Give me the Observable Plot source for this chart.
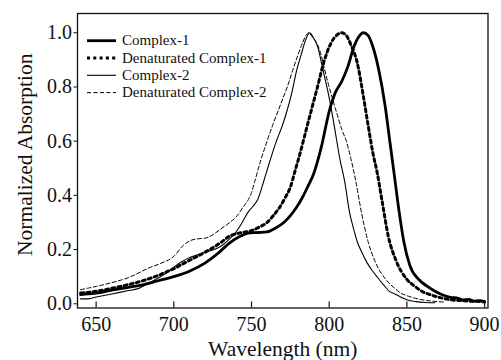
<!DOCTYPE html>
<html><head><meta charset="utf-8">
<script src="https://cdn.jsdelivr.net/npm/d3@7"></script>
<script src="https://cdn.jsdelivr.net/npm/@observablehq/plot@0.6"></script>
<style>body{margin:0;background:#fff}</style>
</head><body><div id="chart"></div>
<script>
// [wavelength (nm), normalized absorption]
const complex1 = [[640,0.034],[645,0.037],[650,0.039],[660,0.05],[670,0.06],[680,0.07],[690,0.085],[700,0.1],[710,0.12],[720,0.15],[728,0.184],[736,0.225],[743,0.25],[749,0.262],[755,0.263],[760,0.265],[765,0.278],[771,0.301],[775,0.325],[779,0.356],[783,0.395],[786,0.43],[790,0.48],[795,0.58],[800,0.71],[804,0.78],[808,0.82],[812,0.875],[816,0.95],[819,0.985],[822,1.0],[825,0.99],[828,0.95],[832,0.86],[836,0.73],[839,0.6],[842,0.47],[845,0.34],[848,0.23],[852,0.14],[858,0.088],[863,0.065],[867,0.05],[872,0.035],[878,0.024],[883,0.02],[886,0.014],[890,0.016],[893,0.01],[897,0.012],[900,0.008]];
const denatured1 = [[640,0.04],[650,0.046],[660,0.057],[670,0.07],[680,0.085],[690,0.105],[700,0.13],[710,0.16],[720,0.19],[730,0.225],[736,0.25],[743,0.262],[750,0.27],[755,0.283],[760,0.3],[764,0.325],[768,0.355],[772,0.395],[775,0.43],[778,0.49],[781,0.55],[786,0.66],[792,0.79],[797,0.9],[801,0.96],[805,0.992],[808,1.0],[811,0.99],[814,0.955],[818,0.89],[822,0.765],[825,0.66],[828,0.56],[831,0.48],[834,0.38],[838,0.25],[843,0.16],[850,0.09],[855,0.065],[860,0.045],[866,0.032],[872,0.022],[878,0.015],[884,0.012],[890,0.01],[895,0.009],[900,0.007]];
const complex2 = [[640,0.018],[645,0.018],[650,0.025],[660,0.036],[670,0.048],[677,0.056],[683,0.074],[690,0.095],[696,0.117],[700,0.135],[705,0.155],[710,0.17],[715,0.18],[720,0.19],[726,0.2],[731,0.215],[735,0.235],[740,0.265],[744,0.3],[748,0.34],[751,0.36],[754,0.385],[758,0.455],[762,0.53],[766,0.6],[770,0.66],[773,0.715],[776,0.78],[779,0.86],[782,0.92],[784,0.96],[786,0.99],[787.5,1.0],[789,0.99],[791,0.97],[793,0.94],[795,0.89],[797.5,0.825],[800,0.76],[803,0.665],[807,0.53],[810,0.45],[813,0.34],[816,0.27],[818,0.23],[821,0.19],[824.5,0.15],[828,0.12],[831,0.098],[835,0.07],[839,0.045],[842,0.037],[846,0.025],[850,0.015],[856,0.008],[862,0.005],[868,0.004]];
const denatured2 = [[640,0.052],[645,0.058],[650,0.064],[660,0.078],[670,0.095],[676,0.11],[683,0.13],[691,0.148],[700,0.175],[706,0.215],[711,0.234],[716,0.24],[720,0.242],[726,0.258],[730,0.275],[736,0.3],[740,0.32],[745,0.36],[748,0.385],[750,0.41],[752,0.45],[756,0.53],[760,0.6],[764,0.665],[769,0.74],[773,0.8],[777,0.87],[780,0.92],[783,0.965],[785.5,0.995],[787,1.0],[789,0.985],[793,0.95],[799,0.82],[804,0.72],[808,0.645],[811,0.6],[814,0.535],[817,0.455],[821,0.33],[825,0.23],[830,0.15],[837,0.086],[842,0.058],[846,0.04],[851,0.028],[857,0.018],[863,0.012],[870,0.008],[875,0.006]];

const seriesNames = ["Complex-1","Denaturated Complex-1","Complex-2","Denaturated Complex-2"];
const seriesData = [complex1, denatured1, complex2, denatured2];
const xTicks = [650,700,750,800,850,900];
const yTicks = [0,0.2,0.4,0.6,0.8,1.0];
const xTitle = "Wavelength (nm)";
const yTitle = "Normalized Absorption";

// styles
const lineStyles = [
  {strokeWidth:2.8, dash:null},
  {strokeWidth:3, dash:"3,3.3"},
  {strokeWidth:1.1, dash:null},
  {strokeWidth:1, dash:"4,2.5"}
];
const W=501, H=360, mL=77, mR=13.5, mT=13, mB=52.5;
const FONT = "'Liberation Serif','Times New Roman',serif";
const INK = "#111";

const lineMarks = seriesData.map((data,i)=>Plot.line(data, {
  x: d=>d[0], y: d=>d[1], stroke:"#000", strokeWidth: lineStyles[i].strokeWidth,
  strokeDasharray: lineStyles[i].dash ?? undefined, curve:"monotone-x", strokeLinejoin:"round"
}));

const plot = Plot.plot({
  width:W, height:H, marginLeft:mL, marginRight:mR, marginTop:mT, marginBottom:mB,
  style:{fontFamily:FONT, fontSize:"20px", color:INK, background:"#fff", overflow:"visible"},
  x:{domain:[638,902.2], ticks:xTicks, tickFormat:d=>String(d), tickSize:0, tickPadding:8.3, label:null},
  y:{domain:[-0.0155,1.071], ticks:yTicks, tickFormat:d=>d.toFixed(1), tickSize:3.5, tickPadding:2, label:null},
  marks:[
    Plot.ruleX(xTicks, {x:d=>d, insetTop:(H-mT-mB)-6, stroke:INK, strokeWidth:1.2}),
    ...lineMarks,
    Plot.frame({stroke:INK, strokeWidth:1.3}),
    Plot.text([xTitle], {text:d=>d, frameAnchor:"bottom", textAnchor:"middle", dy:47.5, lineAnchor:"bottom", fontSize:21.5, fill:INK}),
    Plot.text([yTitle], {text:d=>d, frameAnchor:"left", textAnchor:"middle", dx:-45.3, dy:-6, rotate:-90, lineAnchor:"bottom", fontSize:21.5, fill:INK})
  ]
});

// legend inside the plot, top-left
const svg = d3.select(plot);
const lg = svg.append("g").attr("font-family", FONT).attr("font-size", 15).attr("fill", INK).attr("text-anchor","start");
const lx0 = 87, lx1 = 116, ltx = 122, ly0 = 40.7, lstep = 17.3;
seriesNames.forEach((name,i)=>{
  const y = ly0 + i*lstep;
  const ln = lg.append("line").attr("x1",lx0).attr("x2",lx1).attr("y1",y).attr("y2",y)
    .attr("stroke","#000").attr("stroke-width",lineStyles[i].strokeWidth);
  if (lineStyles[i].dash) ln.attr("stroke-dasharray", lineStyles[i].dash);
  lg.append("text").attr("x",ltx).attr("y",y+4.5).attr("text-anchor","start").text(name);
});

document.getElementById("chart").appendChild(plot);
</script>
</body></html>
